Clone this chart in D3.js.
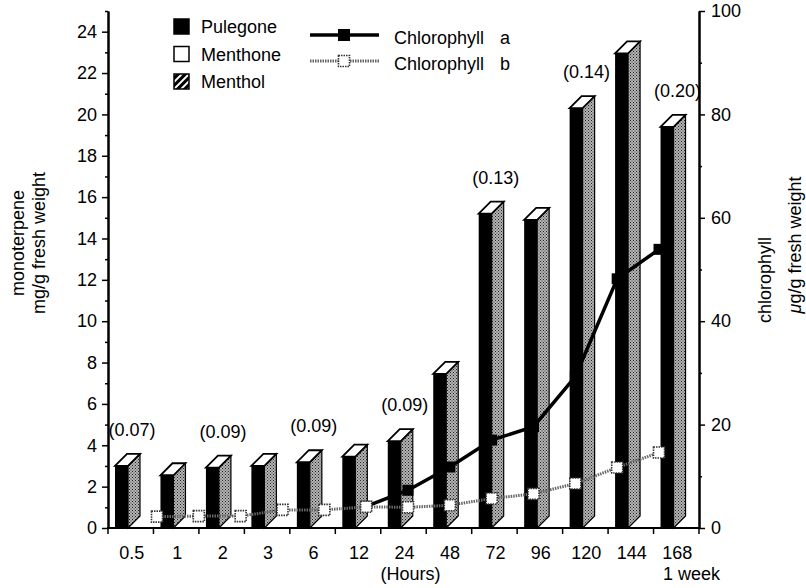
<!DOCTYPE html>
<html>
<head>
<meta charset="utf-8">
<script src="https://cdn.jsdelivr.net/npm/d3@7"></script>
<style>
  body { margin: 0; background: #fff; }
  text { font-family: "Liberation Sans", Arial, Helvetica, sans-serif; fill: #000; }
</style>
</head>
<body>
<div id="chart"></div>
<script>
const width = 806,
      height = 588;

// data
const times = ['0.5', '1', '2', '3', '6', '12', '24', '48', '72', '96', '120', '144', '168'];
const pulegone = [3.0, 2.55, 2.92, 3.0, 3.18, 3.45, 4.2, 7.45, 15.2, 14.9, 20.3, 22.95, 19.4];
const chlA = [null, null, null, null, null, 4.2, 7.3, 11.8, 17.0, 19.6, 29.3, 48.2, 53.9];
const chlB = [2.2, 2.3, 2.3, 3.5, 3.5, 4.1, 4.0, 4.4, 5.7, 6.6, 8.6, 11.7, 14.6];
const noteTimes = ['0.5', '2', '6', '24', '72', '120', '168'],
      noteTexts = ['(0.07)', '(0.09)', '(0.09)', '(0.09)', '(0.13)', '(0.14)', '(0.20)'];
const leftTicks = [0, 2, 4, 6, 8, 10, 12, 14, 16, 18, 20, 22, 24],
      rightTicks = [0, 20, 40, 60, 80, 100];

const svg = d3.select('#chart').append('svg')
    .attr('width', width)
    .attr('height', height);

const defs = svg.append('defs');
const stip = defs.append('pattern')
    .attr('id', 'stip')
    .attr('patternUnits', 'userSpaceOnUse')
    .attr('width', 3).attr('height', 3);
stip.append('rect').attr('width', 3).attr('height', 3).attr('fill', '#b4b4b4');
stip.append('rect').attr('x', 0).attr('y', 0).attr('width', 1).attr('height', 1).attr('fill', '#222');
stip.append('rect').attr('x', 1.5).attr('y', 1.5).attr('width', 1).attr('height', 1).attr('fill', '#333');

const hatch = defs.append('pattern')
    .attr('id', 'hatch')
    .attr('patternUnits', 'userSpaceOnUse')
    .attr('width', 5).attr('height', 5)
    .attr('patternTransform', 'rotate(45)');
hatch.append('rect').attr('width', 5).attr('height', 5).attr('fill', '#000');
hatch.append('rect').attr('width', 2).attr('height', 5).attr('fill', '#fff');

const y0 = 528, yTop = 11, xL = 108, xR = 699;

const xBand = d3.scaleBand().domain(times).range([xL, xR]),
      xPoint = d3.scalePoint().domain(times).range([157, 659]),
      yLeft = d3.scaleLinear().domain([0, 25]).range([y0, yTop]),
      yRight = d3.scaleLinear().domain([0, 100]).range([y0, yTop]);

// 3d bars
const barOff = 7, barW = 13, dx = 12, dy = 12;
const bars = svg.append('g');
times.forEach((t, i) => {
  const x0 = xBand(t) + barOff,
        yt = yLeft(pulegone[i]);
  bars.append('polygon')
    .attr('points', [[x0 + barW, yt], [x0 + barW + dx, yt - dy], [x0 + barW + dx, y0 - dy], [x0 + barW, y0]].join(' '))
    .attr('fill', 'url(#stip)')
    .attr('stroke', '#000').attr('stroke-width', 1.2);
  bars.append('polygon')
    .attr('points', [[x0, yt], [x0 + barW, yt], [x0 + barW + dx, yt - dy], [x0 + dx, yt - dy]].join(' '))
    .attr('fill', '#fff')
    .attr('stroke', '#000').attr('stroke-width', 1.8);
  bars.append('rect')
    .attr('x', x0).attr('y', yt)
    .attr('width', barW).attr('height', y0 - yt)
    .attr('fill', '#000');
});

// value notes above bars
noteTimes.forEach((t, i) => {
  const v = pulegone[times.indexOf(t)];
  svg.append('text')
    .attr('x', xBand(t) + 24)
    .attr('y', yLeft(v) - 30)
    .attr('text-anchor', 'middle')
    .attr('font-size', 18)
    .text(noteTexts[i]);
});

// chlorophyll lines
const lineB = d3.line()
    .x((d, i) => xPoint(times[i]))
    .y(d => yRight(d));
const lineA = d3.line()
    .defined(d => d !== null)
    .x((d, i) => xPoint(times[i]))
    .y(d => yRight(d));

svg.append('path')
    .attr('d', lineA(chlA))
    .attr('fill', 'none')
    .attr('stroke', '#000')
    .attr('stroke-width', 3.5);
svg.selectAll('.markA')
  .data(chlA.map((v, i) => [times[i], v]).filter(d => d[1] !== null))
  .enter().append('rect')
    .attr('class', 'markA')
    .attr('x', d => xPoint(d[0]) - 5.5)
    .attr('y', d => yRight(d[1]) - 5.5)
    .attr('width', 11).attr('height', 11)
    .attr('fill', '#000');

svg.append('path')
    .attr('d', lineB(chlB))
    .attr('fill', 'none')
    .attr('stroke', '#666')
    .attr('stroke-width', 3)
    .attr('stroke-dasharray', '1.5 1');
svg.selectAll('.markB')
  .data(chlB)
  .enter().append('rect')
    .attr('class', 'markB')
    .attr('x', (d, i) => xPoint(times[i]) - 5.5)
    .attr('y', d => yRight(d) - 5.5)
    .attr('width', 11).attr('height', 11)
    .attr('fill', '#fff')
    .attr('stroke', '#333')
    .attr('stroke-width', 1.6)
    .attr('stroke-dasharray', '1.5 1');

// axes
svg.append('g')
    .attr('transform', `translate(${xL},0)`)
    .call(d3.axisLeft(yLeft).tickValues(leftTicks).tickSize(6).tickSizeOuter(0).tickPadding(5));
svg.append('g')
    .attr('transform', `translate(${xL},0)`)
    .call(d3.axisLeft(yLeft).tickValues(d3.range(1, 26, 2)).tickSize(3).tickSizeOuter(0).tickFormat(''));
svg.append('g')
    .attr('transform', `translate(${xR},0)`)
    .call(d3.axisRight(yRight).tickValues(rightTicks).tickSize(6).tickSizeOuter(0).tickPadding(6));
svg.append('g')
    .attr('transform', `translate(${xR},0)`)
    .call(d3.axisRight(yRight).tickValues(d3.range(10, 100, 20)).tickSize(3).tickSizeOuter(0).tickFormat(''));

svg.selectAll('.domain').attr('stroke', '#000').attr('stroke-width', 2);
svg.selectAll('.tick line').attr('stroke', '#000').attr('stroke-width', 1.5);
svg.selectAll('.tick text').attr('font-size', 18).attr('font-family', '"Liberation Sans", Arial, sans-serif');

// x axis
svg.append('line')
    .attr('x1', xL - 1).attr('x2', xR + 1)
    .attr('y1', y0).attr('y2', y0)
    .attr('stroke', '#000').attr('stroke-width', 2);
svg.selectAll('.xtick')
  .data(times.map(t => xBand(t)).concat([xR]))
  .enter().append('line')
    .attr('x1', d => d).attr('x2', d => d)
    .attr('y1', y0).attr('y2', y0 + 6)
    .attr('stroke', '#000').attr('stroke-width', 1.5);
svg.selectAll('.xlab')
  .data(times)
  .enter().append('text')
    .attr('x', d => xBand(d) + xBand.bandwidth() / 2 + 1)
    .attr('y', 559)
    .attr('text-anchor', 'middle')
    .attr('font-size', 18)
    .text(d => d);
svg.append('text')
    .attr('x', xBand('24') + xBand.bandwidth() / 2 + 7)
    .attr('y', 580)
    .attr('text-anchor', 'middle')
    .attr('font-size', 18)
    .text('(Hours)');
svg.append('text')
    .attr('x', 663)
    .attr('y', 580)
    .attr('font-size', 18)
    .text('1 week');

// axis titles
svg.append('text')
    .attr('transform', 'translate(24,243) rotate(-90)')
    .attr('text-anchor', 'middle')
    .attr('font-size', 18)
    .text('monoterpene');
svg.append('text')
    .attr('transform', 'translate(45,243) rotate(-90)')
    .attr('text-anchor', 'middle')
    .attr('font-size', 18)
    .text('mg/g fresh weight');
svg.append('text')
    .attr('transform', 'translate(771,280) rotate(-90)')
    .attr('text-anchor', 'middle')
    .attr('font-size', 18)
    .text('chlorophyll');
const rt = svg.append('text')
    .attr('transform', 'translate(801,245) rotate(-90)')
    .attr('text-anchor', 'middle')
    .attr('font-size', 18);
rt.append('tspan').attr('font-style', 'italic').text('\u03bc');
rt.append('tspan').text('g/g fresh weight');

// legends
const legNames = ['Pulegone', 'Menthone', 'Menthol'],
      legFills = ['#000', '#fff', 'url(#hatch)'];
legNames.forEach((n, i) => {
  const yy = 19 + i * 27.5;
  svg.append('rect')
    .attr('x', 174).attr('y', yy)
    .attr('width', 15).attr('height', 15)
    .attr('fill', legFills[i])
    .attr('stroke', '#000').attr('stroke-width', 1.5);
  svg.append('text')
    .attr('x', 201).attr('y', yy + 14)
    .attr('font-size', 18)
    .text(n);
});

const lgA = svg.append('g');
lgA.append('line').attr('x1', 310).attr('x2', 379).attr('y1', 35).attr('y2', 35)
    .attr('stroke', '#000').attr('stroke-width', 3.5);
lgA.append('rect').attr('x', 338).attr('y', 29).attr('width', 12).attr('height', 12).attr('fill', '#000');
lgA.append('text').attr('x', 394).attr('y', 44).attr('font-size', 18).text('Chlorophyll');
lgA.append('text').attr('x', 500).attr('y', 44).attr('font-size', 18).text('a');

const lgB = svg.append('g');
lgB.append('line').attr('x1', 310).attr('x2', 379).attr('y1', 61).attr('y2', 61)
    .attr('stroke', '#666').attr('stroke-width', 3).attr('stroke-dasharray', '1.5 1');
lgB.append('rect').attr('x', 338.5).attr('y', 55.5).attr('width', 11).attr('height', 11)
    .attr('fill', '#fff').attr('stroke', '#333').attr('stroke-width', 1.6).attr('stroke-dasharray', '1.5 1');
lgB.append('text').attr('x', 394).attr('y', 70).attr('font-size', 18).text('Chlorophyll');
lgB.append('text').attr('x', 500).attr('y', 70).attr('font-size', 18).text('b');
</script>
</body>
</html>
